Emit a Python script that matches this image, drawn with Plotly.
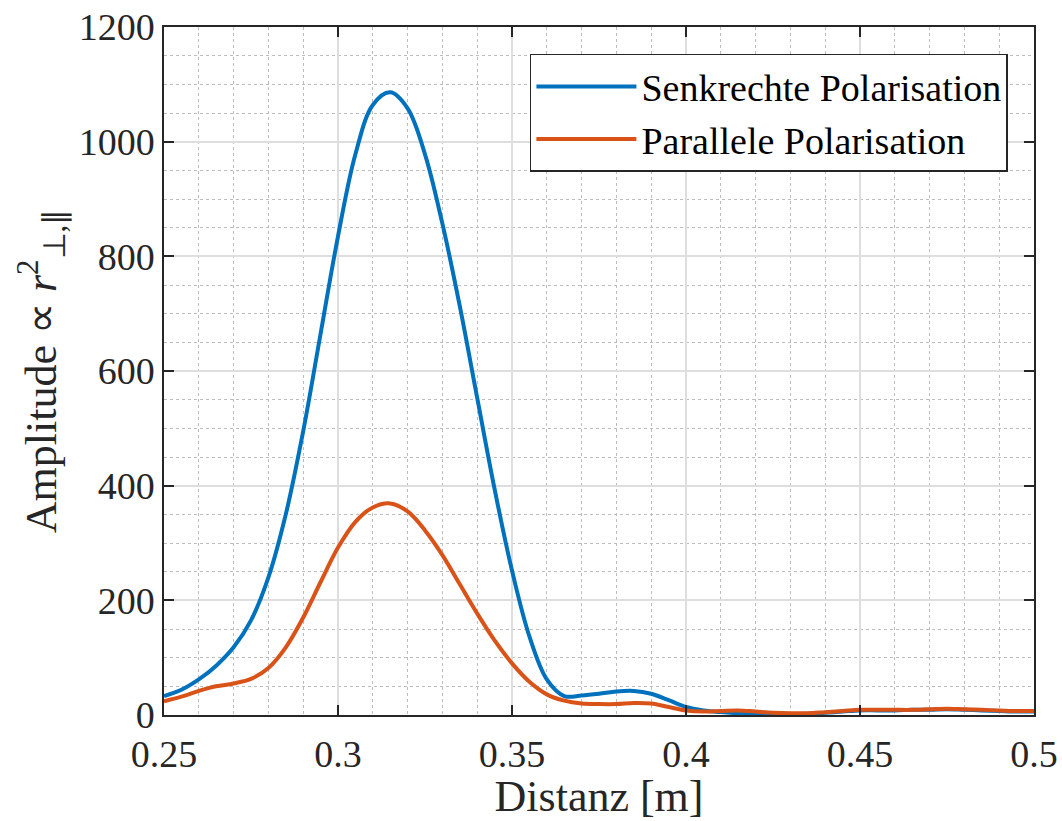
import plotly.graph_objects as go

# Distance axis [m]
distanz = [0.25, 0.255, 0.26, 0.265, 0.27, 0.275, 0.28, 0.285, 0.29, 0.295,
           0.30, 0.305, 0.31, 0.315, 0.32, 0.325, 0.33, 0.335, 0.34, 0.345,
           0.35, 0.355, 0.36, 0.365, 0.37, 0.375, 0.38, 0.385, 0.39, 0.395,
           0.40, 0.405, 0.41, 0.415, 0.42, 0.425, 0.43, 0.435, 0.44, 0.445,
           0.45, 0.455, 0.46, 0.465, 0.47, 0.475, 0.48, 0.485, 0.49, 0.495, 0.50]

senkrecht = [33, 44, 62, 86, 118, 165, 240, 350, 495, 665,
             835, 978, 1064, 1086, 1058, 978, 857, 713, 553, 394,
             252, 137, 62, 33, 34, 37, 41, 42, 37, 26,
             14, 8, 5, 3, 2, 1, 1, 2, 4, 6,
             8, 8, 8, 9, 9, 10, 9, 8, 7, 6, 6]

parallel = [24, 32, 42, 50, 55, 63, 82, 118, 170, 232,
            292, 337, 362, 369, 355, 322, 279, 228, 177, 130,
            90, 58, 36, 25, 20, 19, 19, 21, 20, 14,
            8, 6, 7, 8, 6, 4, 3, 3, 5, 7,
            9, 9, 9, 9, 10, 11, 10, 9, 8, 7, 7]

x_tickvals = [0.25, 0.3, 0.35, 0.4, 0.45, 0.5]
x_ticktext = ["0.25", "0.3", "0.35", "0.4", "0.45", "0.5"]
y_tickvals = [0, 200, 400, 600, 800, 1000, 1200]
y_ticktext = ["0", "200", "400", "600", "800", "1000", "1200"]

names = ["Senkrechte Polarisation", "Parallele Polarisation"]
colors = ["#0072BD", "#D95319"]

FONT = "Liberation Serif"

fig = go.Figure()
for name, ys, c in zip(names, [senkrecht, parallel], colors):
    fig.add_trace(go.Scatter(
        x=distanz, y=ys, mode="lines", name=name,
        line=dict(color=c, width=4, shape="spline", smoothing=1.0),
    ))

axis_common = dict(
    showline=True, linecolor="#262626", linewidth=1.5, mirror="ticks",
    ticks="inside", ticklen=10, tickwidth=1.5, tickcolor="#262626",
    showgrid=True, gridcolor="#DEDEDE", gridwidth=1.5,
    zeroline=False, automargin=False, ticklabeloverflow="allow",
    tickfont=dict(family=FONT, size=38, color="#262626"),
)

fig.update_layout(
    width=1062, height=821,
    margin=dict(l=164, r=28, t=27, b=106),
    paper_bgcolor="white", plot_bgcolor="white",
    font=dict(family=FONT, color="#262626"),
    showlegend=True,
    legend=dict(
        x=0.97, y=0.961, xanchor="right", yanchor="top",
        bgcolor="white", bordercolor="#262626", borderwidth=1.5,
        font=dict(family=FONT, size=38, color="black"),
        itemwidth=100, tracegroupgap=0,
    ),
    xaxis=dict(
        range=[0.25, 0.5], tickvals=x_tickvals, ticktext=x_ticktext,
        ticklabelstandoff=5,
        title=dict(text="Distanz [m]", font=dict(family=FONT, size=44, color="#262626"), standoff=0),
        minor=dict(dtick=0.01, showgrid=True, griddash="dot", gridcolor="#BDBDBD", gridwidth=1, ticks=""),
        **axis_common,
    ),
    yaxis=dict(
        range=[0, 1200], tickvals=y_tickvals, ticktext=y_ticktext,
        title=dict(text="Amplitude ∝ <i>r</i><sup>2</sup><sub>⊥,∥</sub>",
                   font=dict(family=FONT, size=44, color="#262626"), standoff=8),
        minor=dict(dtick=50, showgrid=True, griddash="dot", gridcolor="#BDBDBD", gridwidth=1, ticks=""),
        **axis_common,
    ),
)

fig.write_html("out.html", config={"displayModeBar": False},
               post_script="document.body.style.margin='0px';")
